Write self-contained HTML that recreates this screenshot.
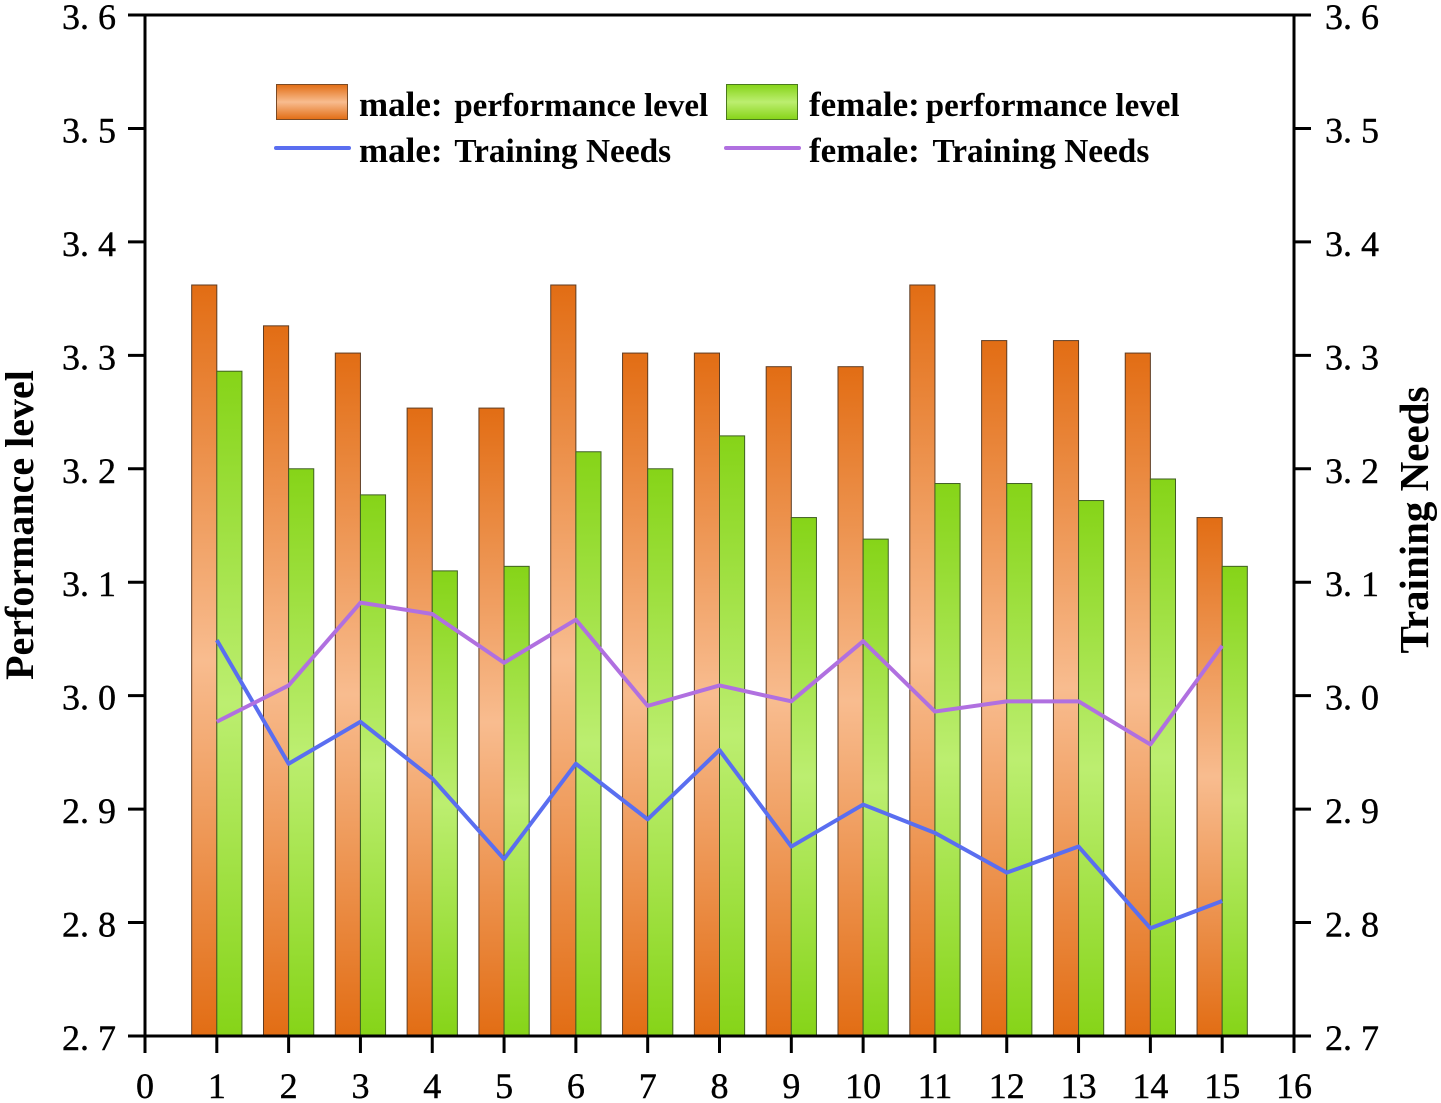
<!DOCTYPE html>
<html>
<head>
<meta charset="utf-8">
<style>
html,body{margin:0;padding:0;background:#fff;width:1441px;height:1103px;overflow:hidden}
svg{display:block;filter:blur(0.35px)}
text{font-family:"Liberation Serif","Noto Serif CJK SC",serif;fill:#000}
.tick{font-size:36px;stroke:#000;stroke-width:0.4px}
.leg{font-size:35px;font-weight:bold}
.title{font-size:40px;font-weight:bold}
</style>
</head>
<body>
<svg id="chart" width="1441" height="1103" viewBox="0 0 1441 1103" xmlns="http://www.w3.org/2000/svg">
<defs>
<linearGradient id="orangeGrad" x1="0" y1="0" x2="0" y2="1">
<stop offset="0" stop-color="#e26d14"/><stop offset="0.5" stop-color="#f8bc8f"/><stop offset="1" stop-color="#e26d14"/>
</linearGradient>
<linearGradient id="greenGrad" x1="0" y1="0" x2="0" y2="1">
<stop offset="0" stop-color="#86d418"/><stop offset="0.5" stop-color="#bcee70"/><stop offset="1" stop-color="#86d418"/>
</linearGradient>
</defs>
<g id="bars"></g>
<g id="lines"></g>
<g id="axes"></g>
<g>
<rect x="276.5" y="84.5" width="71" height="35" fill="url(#orangeGrad)" stroke="#7a4a25" stroke-width="1"/>
<text class="leg" x="359" y="116">male: <tspan font-size="33" dx="3">performance level</tspan></text>
<rect x="726.5" y="84.5" width="71" height="35" fill="url(#greenGrad)" stroke="#4a7a1c" stroke-width="1"/>
<text class="leg" x="809" y="116">female:<tspan font-size="33" dx="6">performance level</tspan></text>
<line x1="276" y1="148" x2="349" y2="148" stroke="#5a6ef0" stroke-width="4" stroke-linecap="round"/>
<text class="leg" x="359" y="162">male: <tspan font-size="33.3" dx="3">Training Needs</tspan></text>
<line x1="726" y1="148" x2="799" y2="148" stroke="#b070e0" stroke-width="4" stroke-linecap="round"/>
<text class="leg" x="809" y="162">female: <tspan font-size="33.3" dx="4">Training Needs</tspan></text>
</g>
<text class="title" text-anchor="middle" transform="translate(33,525) rotate(-90)">Performance level</text>
<text class="title" style="font-size:41px" text-anchor="middle" transform="translate(1428,520) rotate(-90)">Training Needs</text>
</svg>
<script>
const categories = [1,2,3,4,5,6,7,8,9,10,11,12,13,14,15];
const malePerformance = [3.362,3.326,3.302,3.2535,3.2535,3.362,3.302,3.302,3.29,3.29,3.362,3.313,3.313,3.302,3.157];
const femalePerformance = [3.286,3.2,3.177,3.11,3.114,3.215,3.2,3.229,3.157,3.138,3.187,3.187,3.172,3.191,3.114];
const maleTraining = [3.049,2.94,2.977,2.927,2.856,2.94,2.891,2.952,2.867,2.904,2.879,2.844,2.867,2.795,2.819];
const femaleTraining = [2.977,3.009,3.082,3.072,3.029,3.067,2.991,3.009,2.995,3.048,2.986,2.995,2.995,2.957,3.044];
const xTickLabels = [0,1,2,3,4,5,6,7,8,9,10,11,12,13,14,15,16];
const yTickLabels = ["2. 7","2. 8","2. 9","3. 0","3. 1","3. 2","3. 3","3. 4","3. 5","3. 6"];
const yTickValues = [2.7,2.8,2.9,3.0,3.1,3.2,3.3,3.4,3.5,3.6];

const NS = "http://www.w3.org/2000/svg";
const plot = {left:145, right:1294, top:15, bottom:1036};
const xDomain = [0,16];
const yDomain = [2.7,3.6];
function xScale(v){ return plot.left + (v-xDomain[0])/(xDomain[1]-xDomain[0])*(plot.right-plot.left); }
function yScale(v){ return plot.bottom - (v-yDomain[0])/(yDomain[1]-yDomain[0])*(plot.bottom-plot.top); }
function make(tag, attrs, parent){
  const el = document.createElementNS(NS, tag);
  for (const k in attrs) el.setAttribute(k, attrs[k]);
  parent.appendChild(el);
  return el;
}
const barsG = document.getElementById("bars");
const linesG = document.getElementById("lines");
const axesG = document.getElementById("axes");
const barUnit = 0.35;

categories.forEach(function(c,i){
  const yM = yScale(malePerformance[i]);
  const m = make("rect",{x:xScale(c-barUnit),y:yM,width:xScale(c)-xScale(c-barUnit),height:plot.bottom-yM,fill:"url(#orangeGrad)",stroke:"#5f3c22","stroke-width":1},barsG);
  
  
  const yF = yScale(femalePerformance[i]);
  const f = make("rect",{x:xScale(c),y:yF,width:xScale(c+barUnit)-xScale(c),height:plot.bottom-yF,fill:"url(#greenGrad)",stroke:"#3f5f22","stroke-width":1},barsG);
  
  
});

function pointsFor(series){
  return series.map(function(v,i){ return xScale(categories[i])+","+yScale(v); }).join(" ");
}
const lineM = make("polyline",{points:pointsFor(maleTraining),fill:"none",stroke:"#5a6ef0","stroke-width":4,"stroke-linejoin":"round"},linesG);


const lineF = make("polyline",{points:pointsFor(femaleTraining),fill:"none",stroke:"#b070e0","stroke-width":4,"stroke-linejoin":"round"},linesG);



const frame = make("path",{d:"M"+plot.left+" "+plot.bottom+"V"+plot.top+"H"+plot.right+"V"+plot.bottom+"H"+plot.left,fill:"none",stroke:"#000","stroke-width":3},axesG);



yTickValues.forEach(function(v,i){
  const y = yScale(v);
  const tl = make("line",{x1:plot.left-17,x2:plot.left,y1:y,y2:y,stroke:"#000","stroke-width":3},axesG);
  
  
  const tr = make("line",{x1:plot.right,x2:plot.right+17,y1:y,y2:y,stroke:"#000","stroke-width":3},axesG);
  
  
  const ll = make("text",{x:62,y:y+14,"class":"tick"},axesG);
  ll.textContent = yTickLabels[i];
  
  
  const lr = make("text",{x:1325,y:y+14,"class":"tick"},axesG);
  lr.textContent = yTickLabels[i];
  
  
});
xTickLabels.forEach(function(v){
  const x = xScale(v);
  const t = make("line",{x1:x,x2:x,y1:plot.bottom,y2:plot.bottom+17,stroke:"#000","stroke-width":3},axesG);
  
  
  const l = make("text",{x:x,y:1098,"class":"tick","text-anchor":"middle"},axesG);
  l.textContent = v;
  
  
});
</script>
</body>
</html>
